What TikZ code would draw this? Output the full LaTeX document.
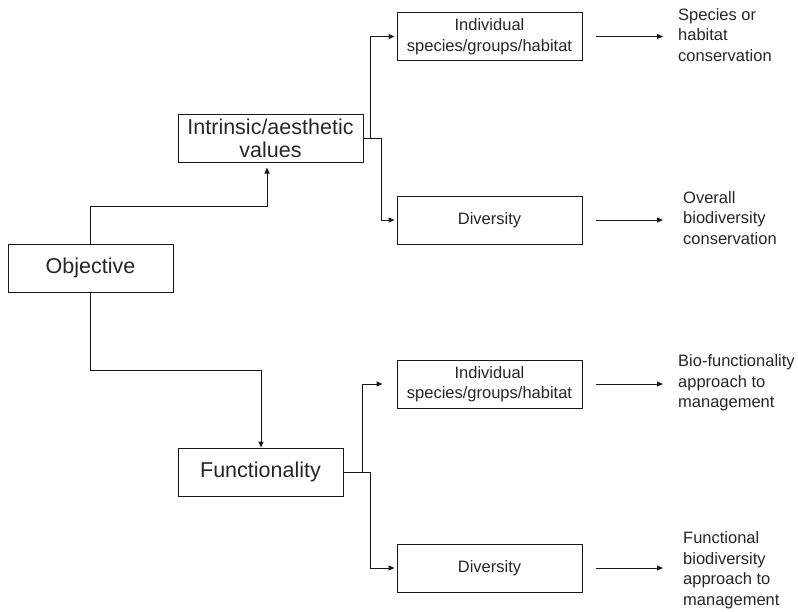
\documentclass[tikz,border=0pt]{standalone}
\usepackage{fontspec}
\setmainfont{Liberation Sans}
\usetikzlibrary{arrows.meta,calc}
\begin{document}
\begin{tikzpicture}[x=1pt,y=-1pt,
  box/.style={draw=black!90, line width=1pt, minimum height=48pt, inner sep=0pt, align=center, text=black!85},
  big/.style={font=\fontsize{21.5}{23}\selectfont},
  small/.style={font=\fontsize{16.5}{20.5}\selectfont},
  lbl/.style={anchor=west, inner sep=0pt, align=left, text=black!85, small},
  conn/.style={draw=black!90, line width=1pt},
  arr/.style={conn, -{Triangle[length=6pt,width=5pt]}}]
\useasboundingbox (0,0) rectangle (798,611);

\node[box,big,minimum width=165pt] (obj) at (90.5,268) {Objective};
\node[box,big,minimum width=185pt] (intr) at (270.5,138) {Intrinsic/aesthetic\\values};
\node[box,big,minimum width=165pt] (func) at (260.5,472) {Functionality};
\node[box,small,minimum width=185pt] (ind1) at (489.5,36.5) {Individual\\species/groups/habitat};
\node[box,small,minimum width=185pt] (div1) at (489.5,220) {Diversity};
\node[box,small,minimum width=185pt] (ind2) at (489.5,384) {Individual\\species/groups/habitat};
\node[box,small,minimum width=185pt] (div2) at (489.5,568) {Diversity};

\node[lbl] (o1) at (678,35) {Species or\\habitat\\conservation};
\node[lbl] (o2) at (683,218) {Overall\\biodiversity\\conservation};
\node[lbl] (o3) at (678,383) {Bio-functionality\\approach to\\management};
\node[lbl] (o4) at (683,570) {Functional\\biodiversity\\approach to\\management};

\coordinate (b1) at (267,206);
\coordinate (b2) at (261,370);
\draw[arr, shorten >=5pt] (obj.north) |- (b1) -- (intr.south -| b1);
\draw[arr] (obj.south) |- (b2) -- (func.north -| b2);

\draw[arr, shorten >=2pt] (intr.east) -- ++(18,0) |- (div1.west);
\draw[arr, shorten >=2pt] ($(intr.east)+(7,0)$) |- (ind1.west);
\draw[arr, shorten >=2pt] (func.east) -- ++(27,0) |- (div2.west);
\draw[arr, shorten >=14pt] ($(func.east)+(19,0)$) |- (ind2.west);

\draw[arr, shorten <=13pt, shorten >=15pt] (ind1.east) -- (ind1.east -| o1.west);
\draw[arr, shorten <=13pt, shorten >=20pt] (div1.east) -- (div1.east -| o2.west);
\draw[arr, shorten <=13pt, shorten >=15pt] (ind2.east) -- (ind2.east -| o3.west);
\draw[arr, shorten <=13pt, shorten >=20pt] (div2.east) -- (div2.east -| o4.west);
\end{tikzpicture}
\end{document}
